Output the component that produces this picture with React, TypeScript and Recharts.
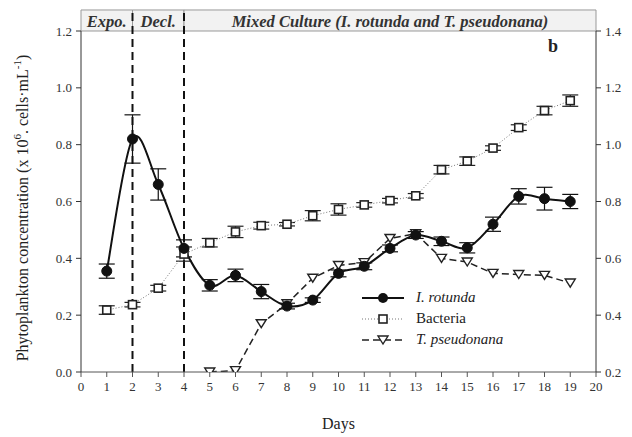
import React from 'react';
import {
  ComposedChart, Line, XAxis, YAxis, ErrorBar, ReferenceLine, ReferenceArea, Legend, Customized,
} from 'recharts';

const days = [1, 2, 3, 4, 5, 6, 7, 8, 9, 10, 11, 12, 13, 14, 15, 16, 17, 18, 19];
const rotunda = [0.355, 0.82, 0.66, 0.435, 0.305, 0.34, 0.283, 0.232, 0.253, 0.347, 0.372, 0.435, 0.482, 0.46, 0.437, 0.52, 0.618, 0.61, 0.6];
const rotundaErr = [0.025, 0.085, 0.055, 0.03, 0.02, 0.022, 0.025, 0.01, 0.008, 0.012, 0.012, 0.012, 0.012, 0.015, 0.018, 0.025, 0.027, 0.04, 0.025];
const bacteria = [0.418, 0.437, 0.495, 0.615, 0.655, 0.693, 0.715, 0.72, 0.75, 0.772, 0.788, 0.803, 0.82, 0.912, 0.942, 0.988, 1.06, 1.12, 1.155];
const bacteriaErr = [0.015, 0.008, 0.01, 0.025, 0.015, 0.02, 0.012, 0.006, 0.018, 0.02, 0.008, 0.008, 0.008, 0.015, 0.015, 0.008, 0.01, 0.015, 0.02];
const pseudonana = [null, null, null, null, 0.0, 0.005, 0.17, 0.24, 0.33, 0.375, 0.385, 0.47, 0.487, 0.4, 0.387, 0.347, 0.343, 0.34, 0.313];

const xTicks = [0, 1, 2, 3, 4, 5, 6, 7, 8, 9, 10, 11, 12, 13, 14, 15, 16, 17, 18, 19, 20];
const leftTicks = [0, 0.2, 0.4, 0.6, 0.8, 1.0, 1.2];
const rightTicks = [0.2, 0.4, 0.6, 0.8, 1.0, 1.2, 1.4];
const phases = [
  { x1: 0, x2: 2, label: 'Expo.' },
  { x1: 2, x2: 4, label: 'Decl.' },
  { x1: 4, x2: 20, label: 'Mixed Culture (I. rotunda and T. pseudonana)' },
];

const data = days.map((d, i) => ({
  day: d,
  rot: rotunda[i],
  rotErr: rotundaErr[i],
  bac: bacteria[i],
  bacErr: bacteriaErr[i],
  tps: pseudonana[i],
}));

const FONT = '"Liberation Serif", "DejaVu Serif", serif';
const HEADER_TOP = 1.274;

// Catmull-Rom style smooth curve (passes through every point)
const smoothCurve: any = (context: any) => {
  let pts: number[][] = [];
  return {
    areaStart() {},
    areaEnd() {},
    lineStart() { pts = []; },
    point(x: number, y: number) { pts.push([+x, +y]); },
    lineEnd() {
      const n = pts.length;
      if (n === 0) return;
      context.moveTo(pts[0][0], pts[0][1]);
      if (n === 1) return;
      for (let i = 0; i < n - 1; i++) {
        const p0 = pts[i - 1] || pts[i];
        const p1 = pts[i];
        const p2 = pts[i + 1];
        const p3 = pts[i + 2] || p2;
        const t = 1 / 6;
        const c1x = p1[0] + (p2[0] - p0[0]) * t;
        const c1y = p1[1] + (p2[1] - p0[1]) * t;
        const c2x = p2[0] - (p3[0] - p1[0]) * t;
        const c2y = p2[1] - (p3[1] - p1[1]) * t;
        context.bezierCurveTo(c1x, c1y, c2x, c2y, p2[0], p2[1]);
      }
    },
  };
};

const Circle = (p: any) => {
  const { cx, cy } = p;
  if (cx == null || cy == null || p.value == null) return <g />;
  return <circle cx={cx} cy={cy} r={5} fill="#111" stroke="#111" />;
};
const Square = (p: any) => {
  const { cx, cy } = p;
  if (cx == null || cy == null || p.value == null) return <g />;
  return <rect x={cx - 4} y={cy - 4} width={8} height={8} fill="#fff" stroke="#222" strokeWidth={1.6} />;
};
const Tri = (p: any) => {
  const { cx, cy } = p;
  if (cx == null || cy == null || p.value == null) return <g />;
  return <path d={`M${cx - 5},${cy - 4} L${cx + 5},${cy - 4} L${cx},${cy + 4} Z`} fill="#fff" stroke="#222" strokeWidth={1.4} />;
};

const YLabel = () => (
  <text x={22} y={208} transform="rotate(-90 22 208)" textAnchor="middle" dominantBaseline="central"
    fontSize={16} fontFamily={FONT} fill="#222">
    Phytoplankton concentration (x 10<tspan dy={-5} fontSize={11}>6</tspan>
    <tspan dy={5}>. cells·mL</tspan><tspan dy={-5} fontSize={11}>-1</tspan><tspan dy={5}>)</tspan>
  </text>
);

const headerLabel = (text: string) => (props: any) => {
  const vb = props.viewBox || {};
  return (
    <text x={vb.x + vb.width / 2} y={vb.y + vb.height / 2 + 1} textAnchor="middle" dominantBaseline="central"
      fontSize={16.5} fontWeight="bold" fontStyle="italic" fontFamily={FONT} fill="#333">
      {text}
    </text>
  );
};

const PanelTag = () => (
  <text x={553} y={46} textAnchor="middle" dominantBaseline="central" fontSize={18} fontWeight="bold" fontFamily={FONT} fill="#222">b</text>
);

const legendRows = [
  { name: 'I. rotunda', italic: true, kind: 'rot' },
  { name: 'Bacteria', italic: false, kind: 'bac' },
  { name: 'T. pseudonana', italic: true, kind: 'tps' },
];

const LegendContent = () => (
  <div style={{ fontFamily: FONT }}>
    {legendRows.map((r) => (
      <div key={r.name} style={{ display: 'flex', alignItems: 'center', height: 21 }}>
        <svg width={44} height={14} style={{ marginRight: 10 }}>
          {r.kind === 'rot' && (<g><line x1={0} y1={7} x2={42} y2={7} stroke="#111" strokeWidth={2} /><circle cx={21} cy={7} r={5} fill="#111" /></g>)}
          {r.kind === 'bac' && (<g><line x1={0} y1={7} x2={42} y2={7} stroke="#777" strokeWidth={1} strokeDasharray="1 2" /><rect x={17} y={3} width={8} height={8} fill="#fff" stroke="#222" strokeWidth={1.6} /></g>)}
          {r.kind === 'tps' && (<g><line x1={0} y1={7} x2={42} y2={7} stroke="#222" strokeWidth={1.5} strokeDasharray="7 4" /><path d="M16,3 L26,3 L21,11 Z" fill="#fff" stroke="#222" strokeWidth={1.4} /></g>)}
        </svg>
        <span style={{ fontSize: 15, fontStyle: r.italic ? 'italic' : 'normal', color: '#222' }}>{r.name}</span>
      </div>
    ))}
  </div>
);

export default function App() {
  return (
    <div style={{ position: 'absolute', left: 0, top: 0, background: '#fff' }}>
      <ComposedChart width={632} height={437} data={data} margin={{ top: 31, right: 0, left: 0, bottom: 0 }}>
        <XAxis dataKey="day" type="number" domain={[0, 20]} ticks={xTicks} interval={0}
          height={65} tickSize={5} tickMargin={5} stroke="#555"
          tick={{ fontSize: 13, fontFamily: FONT, fill: '#333' }}
          label={{ value: 'Days', position: 'insideBottom', offset: 8, fontSize: 16, fontFamily: FONT, fill: '#222' }} />
        <YAxis yAxisId="left" domain={[0, 1.2]} ticks={leftTicks} width={81} tickSize={5} tickMargin={4}
          stroke="#333" allowDataOverflow
          tickFormatter={(v: number) => v.toFixed(1)}
          tick={{ fontSize: 13, fontFamily: FONT, fill: '#333' }}
          label={<YLabel />} />
        <YAxis yAxisId="right" orientation="right" domain={[0.2, 1.4]} ticks={rightTicks} width={36} tickSize={5} tickMargin={4}
          stroke="#333" allowDataOverflow
          tickFormatter={(v: number) => v.toFixed(1)}
          tick={{ fontSize: 13, fontFamily: FONT, fill: '#333' }} />
        {phases.map((p) => (
          <ReferenceArea key={p.label} yAxisId="left" x1={p.x1} x2={p.x2} y1={1.2} y2={HEADER_TOP}
            ifOverflow="visible" fill="#f2f2f2" fillOpacity={1} stroke="#999" strokeWidth={1}
            label={headerLabel(p.label)} />
        ))}
        <ReferenceLine yAxisId="left" segment={[{ x: 2, y: 0 }, { x: 2, y: HEADER_TOP }]} ifOverflow="visible"
          stroke="#111" strokeWidth={2} strokeDasharray="8 5" />
        <ReferenceLine yAxisId="left" segment={[{ x: 4, y: 0 }, { x: 4, y: HEADER_TOP }]} ifOverflow="visible"
          stroke="#111" strokeWidth={2} strokeDasharray="8 5" />
        <Line yAxisId="right" type="linear" dataKey="bac" stroke="#777" strokeWidth={1} strokeDasharray="1 2"
          dot={<Square />} isAnimationActive={false} connectNulls>
          <ErrorBar dataKey="bacErr" width={8} stroke="#222" strokeWidth={1.2} />
        </Line>
        <Line yAxisId="left" type="linear" dataKey="tps" stroke="#222" strokeWidth={1.5} strokeDasharray="7 4"
          dot={<Tri />} isAnimationActive={false} />
        <Line yAxisId="left" type={smoothCurve} dataKey="rot" stroke="#111" strokeWidth={2}
          dot={<Circle />} isAnimationActive={false}>
          <ErrorBar dataKey="rotErr" width={8} stroke="#111" strokeWidth={1.2} />
        </Line>
        <Legend layout="vertical" align="center" verticalAlign="middle" content={<LegendContent />}
          wrapperStyle={{ position: 'absolute', left: 362, top: 287, width: 180, height: 63 }} />
        <Customized component={<PanelTag />} />
      </ComposedChart>
    </div>
  );
}
